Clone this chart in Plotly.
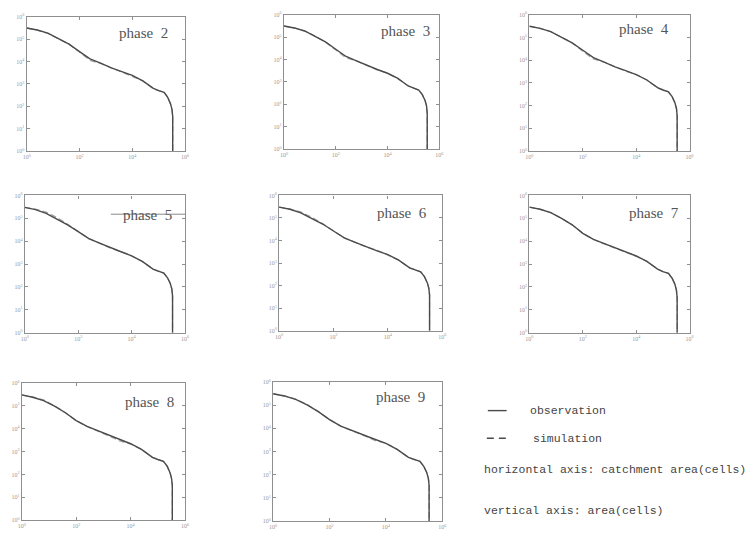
import plotly.graph_objects as go

W, H = 756, 534

# Catchment area (cells) sampled along each curve; the last two points form the vertical drop
catchment_area = [1, 2.5, 6.3, 16, 40, 100, 250, 630, 1600, 4000, 10000, 25000,
                  63000, 100000, 160000, 220000, 280000, 320000, 340000, 340000]

phases = ["phase  2", "phase  3", "phase  4", "phase  5",
          "phase  6", "phase  7", "phase  8", "phase  9"]

# Area (cells) whose catchment exceeds the value above, observed per phase
obs_p2 = [316000, 257000, 186000, 107000, 60000, 28000, 13200, 8500, 5200, 3550, 2400, 1380, 630, 500, 417, 251, 132, 71, 35, 1]
obs_p3 = [316000, 260000, 190000, 112000, 62000, 29000, 13800, 8700, 5400, 3600, 2450, 1450, 660, 520, 430, 270, 150, 85, 40, 1]
obs_p4 = [316000, 255000, 182000, 105000, 58000, 27500, 13000, 8300, 5100, 3500, 2350, 1350, 620, 490, 410, 250, 135, 75, 36, 1]
obs_p5 = [300000, 240000, 165000, 95000, 52000, 26000, 13000, 8200, 5100, 3450, 2300, 1300, 600, 480, 400, 250, 140, 80, 40, 1]
obs_p6 = [305000, 245000, 170000, 98000, 54000, 26500, 13000, 8300, 5200, 3500, 2350, 1350, 610, 490, 410, 250, 135, 75, 38, 1]
obs_p7 = [310000, 250000, 178000, 100000, 52000, 22000, 12000, 7800, 5000, 3400, 2250, 1300, 600, 470, 390, 240, 130, 70, 35, 1]
obs_p8 = [300000, 238000, 168000, 97000, 50000, 22500, 12500, 8000, 5000, 3300, 2200, 1250, 560, 450, 370, 230, 120, 65, 32, 1]
obs_p9 = [310000, 250000, 178000, 102000, 53000, 24000, 12500, 8000, 5000, 3400, 2250, 1250, 560, 450, 380, 230, 125, 70, 35, 1]

# Simulated counterparts
sim_p2 = [316000, 257000, 180000, 107000, 60000, 27000, 11200, 8300, 5200, 3500, 2150, 1380, 610, 500, 420, 255, 130, 70, 35, 1]
sim_p3 = [316000, 260000, 190000, 112000, 60000, 27000, 12000, 8700, 5400, 3500, 2450, 1400, 660, 520, 430, 270, 150, 85, 40, 1]
sim_p4 = [316000, 255000, 182000, 105000, 58000, 25000, 11500, 8300, 5000, 3300, 2350, 1350, 600, 490, 410, 250, 135, 75, 36, 1]
sim_p5 = [300000, 255000, 185000, 108000, 55000, 26000, 13000, 8200, 5000, 3450, 2300, 1300, 600, 480, 400, 250, 140, 80, 40, 1]
sim_p6 = [305000, 252000, 185000, 106000, 56000, 26500, 13000, 8300, 5200, 3700, 2300, 1350, 610, 490, 410, 250, 135, 75, 38, 1]
sim_p7 = [310000, 250000, 178000, 100000, 52000, 22000, 11800, 7800, 5000, 3300, 2150, 1300, 600, 470, 390, 240, 130, 70, 35, 1]
sim_p8 = [300000, 245000, 182000, 100000, 50000, 22500, 12500, 8000, 4800, 2900, 2150, 1250, 560, 450, 370, 230, 120, 65, 32, 1]
sim_p9 = [310000, 252000, 182000, 108000, 53000, 24000, 12500, 8000, 5000, 3000, 2300, 1250, 560, 450, 380, 230, 125, 70, 35, 1]

observed = [obs_p2, obs_p3, obs_p4, obs_p5, obs_p6, obs_p7, obs_p8, obs_p9]
simulated = [sim_p2, sim_p3, sim_p4, sim_p5, sim_p6, sim_p7, sim_p8, sim_p9]

x_tickvals = [1, 1e2, 1e4, 1e6]
x_ticktext = ["10<sup>0</sup>", "10<sup>2</sup>", "10<sup>4</sup>", "10<sup>6</sup>"]
y_tickvals = [1, 1e1, 1e2, 1e3, 1e4, 1e5, 1e6]
y_ticktext = ["10<sup>%d</sup>" % k for k in range(7)]

# Panel boxes in pixels: (left, right, top, bottom)
boxes = [
    (23, 183, 13, 149), (283, 440, 11, 147), (531, 693, 11, 149),
    (21, 183, 194, 333), (278, 443, 194, 331), (531, 693, 194, 333),
    (18, 183, 384, 523), (272, 443, 383, 524),
]
# Label anchor (right edge, vertical centre) in pixels
label_pos = [(168, 29), (433, 27), (674, 25), (172, 214),
             (430, 212), (684, 212), (174, 403), (428, 398)]

OBS_COLOR = "#4a4a4a"
SIM_COLOR = "#a5a5a5"
AXIS_COLOR = "#8f8f8f"

fig = go.Figure()
layout = dict(
    width=W, height=H, margin=dict(l=0, r=0, t=0, b=0),
    paper_bgcolor="white", plot_bgcolor="white", showlegend=False,
)
annotations = []
shapes = []

def px(x):
    return x / W

def py(y):
    return 1 - y / H

for i, (obs, sim) in enumerate(zip(observed, simulated)):
    n = i + 1
    xa = "x" if n == 1 else "x%d" % n
    ya = "y" if n == 1 else "y%d" % n
    # simulated curve underneath, observed on top
    fig.add_trace(go.Scatter(x=catchment_area, y=sim, xaxis=xa, yaxis=ya, mode="lines",
                             line=dict(color=SIM_COLOR, width=1.3, dash="6px,3px")))
    fig.add_trace(go.Scatter(x=catchment_area, y=obs, xaxis=xa, yaxis=ya, mode="lines",
                             line=dict(color=OBS_COLOR, width=1.4)))
    l, r, t, b = boxes[i]
    common = dict(type="log", range=[0, 6], showgrid=False, zeroline=False,
                  showline=True, linecolor=AXIS_COLOR, linewidth=1.2, mirror="allticks",
                  ticks="inside", ticklen=3, tickcolor=AXIS_COLOR,
                  tickfont=dict(size=6, color="#999999", family="Liberation Serif"))
    layout["xaxis" if n == 1 else "xaxis%d" % n] = dict(
        common, domain=[px(l), px(r)], anchor=ya,
        tickvals=x_tickvals, ticktext=x_ticktext)
    layout["yaxis" if n == 1 else "yaxis%d" % n] = dict(
        common, domain=[py(b), py(t)], anchor=xa,
        tickvals=y_tickvals, ticktext=y_ticktext)
    lx, ly = label_pos[i]
    annotations.append(dict(x=px(lx), y=py(ly), xref="paper", yref="paper",
                            xanchor="right", yanchor="middle", showarrow=False,
                            text=phases[i],
                            font=dict(family="Liberation Serif", size=15, color="#555555")))

# Stray legend line crossing the phase 5 label
shapes.append(dict(type="line", xref="paper", yref="paper",
                   x0=px(108), x1=px(183), y0=py(213), y1=py(213),
                   line=dict(color="#8a8a8a", width=1)))

# Key and axis notes
shapes.append(dict(type="line", xref="paper", yref="paper",
                   x0=px(489), x1=px(508), y0=py(412), y1=py(412),
                   line=dict(color=OBS_COLOR, width=1.4)))
shapes.append(dict(type="line", xref="paper", yref="paper",
                   x0=px(488), x1=px(508), y0=py(440), y1=py(440),
                   line=dict(color=OBS_COLOR, width=1.4, dash="7px,5px")))
notes = [
    (530, 412, "observation"),
    (533, 440, "simulation"),
    (483, 472, "horizontal axis: catchment area(cells)"),
    (483, 513, "vertical axis: area(cells)"),
]
for x, y, txt in notes:
    annotations.append(dict(x=px(x), y=py(y), xref="paper", yref="paper",
                            xanchor="left", yanchor="middle", showarrow=False,
                            text=txt,
                            font=dict(family="Liberation Mono", size=11.5, color="#444444")))

layout["annotations"] = annotations
layout["shapes"] = shapes
fig.update_layout(**layout)
fig.write_html("out.html")
